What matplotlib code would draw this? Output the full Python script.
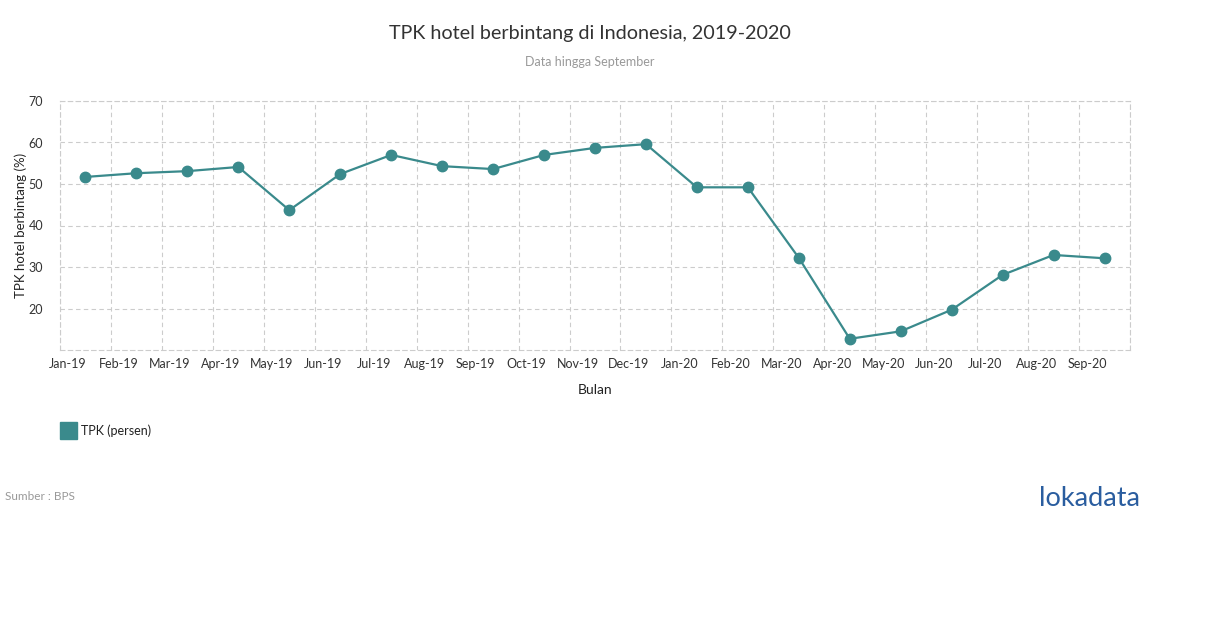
import matplotlib.pyplot as plt
import matplotlib.patches as mpatches

plt.rcParams["font.family"] = ["Lato", "DejaVu Sans"]

# Data
bulan = ["Jan-19", "Feb-19", "Mar-19", "Apr-19", "May-19", "Jun-19", "Jul-19",
         "Aug-19", "Sep-19", "Oct-19", "Nov-19", "Dec-19", "Jan-20", "Feb-20",
         "Mar-20", "Apr-20", "May-20", "Jun-20", "Jul-20", "Aug-20", "Sep-20"]
tpk = [51.7, 52.6, 53.1, 54.1, 43.7, 52.4, 57.0, 54.3, 53.6, 57.0, 58.7,
       59.6, 49.2, 49.2, 32.2, 12.7, 14.5, 19.7, 28.1, 32.9, 32.1]
y_ticks = [20, 30, 40, 50, 60, 70]

WARNA = "#3a8a8c"
GRID = "#cccccc"

fig = plt.figure(figsize=(12.1, 6.28), dpi=100)
ax = fig.add_axes([60 / 1210, 1 - 350 / 628, 1070 / 1210, 249 / 628])

x = list(range(len(bulan)))
ax.plot(x, tpk, color=WARNA, linewidth=1.6, marker="o", markersize=7.5, zorder=3)

ax.set_xlim(-0.5, len(bulan) - 0.5)
ax.set_ylim(10, 70)

# grid vertikal di batas kategori
ax.set_xticks([i - 0.5 for i in range(len(bulan) + 1)], minor=True)
ax.set_xticks([i - 0.34 for i in x])
ax.set_xticklabels(bulan, fontsize=9, color="#333333")
ax.set_yticks(y_ticks)
ax.set_yticklabels([str(v) for v in y_ticks], fontsize=9, color="#333333")
ax.tick_params(axis="both", which="both", length=0)
ax.tick_params(axis="x", pad=6)
ax.tick_params(axis="y", pad=12)
ax.grid(True, which="minor", axis="x", color=GRID, linestyle=(0, (4, 3)), linewidth=0.8)
ax.grid(True, which="major", axis="y", color=GRID, linestyle=(0, (4, 3)), linewidth=0.8)
for s in ax.spines.values():
    s.set_color(GRID)
    s.set_linestyle((0, (4, 3)))
    s.set_linewidth(0.8)

ax.set_xlabel("Bulan", fontsize=10, color="#222222", labelpad=10)
ax.set_ylabel("TPK hotel berbintang (%)", fontsize=9.5, color="#222222", labelpad=1)

fig.text(590 / 1210, 1 - 33 / 628, "TPK hotel berbintang di Indonesia, 2019-2020",
         ha="center", va="center", fontsize=14.2, color="#333333")
fig.text(590 / 1210, 1 - 62 / 628, "Data hingga September",
         ha="center", va="center", fontsize=9, color="#999999")

# legenda
fig.patches.append(mpatches.Rectangle((60 / 1210, 1 - 439 / 628), 17 / 1210, 17 / 628,
                                      transform=fig.transFigure, color=WARNA))
fig.text(81 / 1210, 1 - 431 / 628, "TPK (persen)", ha="left", va="center",
         fontsize=9, color="#222222")

fig.text(5 / 1210, 1 - 497 / 628, "Sumber : BPS", ha="left", va="center",
         fontsize=8.5, color="#999999")
fig.text(1140 / 1210, 1 - 499 / 628, "lokadata", ha="right", va="center",
         fontsize=19.5, color="#2a5d9f")

fig.savefig("out.png", dpi=100)
